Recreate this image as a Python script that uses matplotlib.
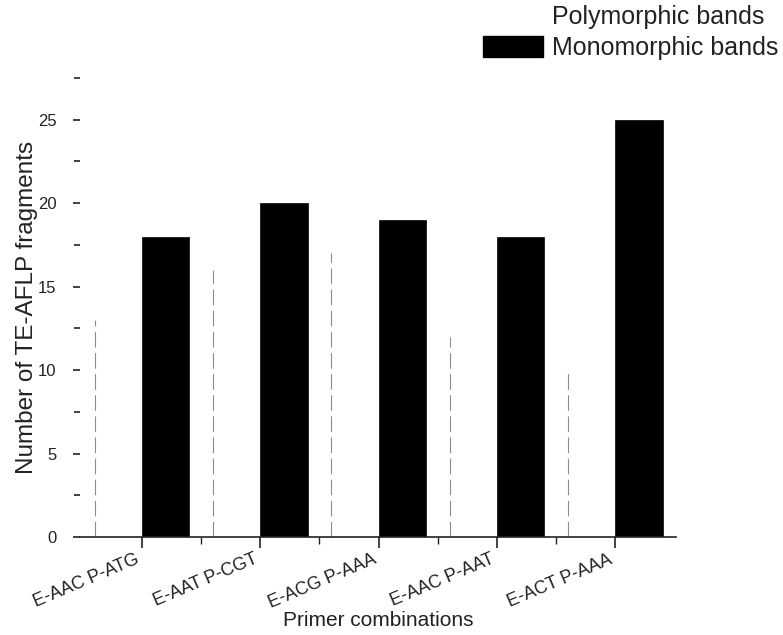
import matplotlib
matplotlib.use("Agg")
import matplotlib.pyplot as plt
import numpy as np
from matplotlib.patches import Patch

plt.rcParams['font.family'] = ['Liberation Sans Narrow', 'Liberation Sans', 'DejaVu Sans']

categories = ["E-AAC P-ATG", "E-AAT P-CGT", "E-ACG P-AAA", "E-AAC P-AAT", "E-ACT P-AAA"]
polymorphic = [13, 16, 17, 12, 10]
monomorphic = [18, 20, 19, 18, 25]
yticks = [0, 5, 10, 15, 20, 25]

fig = plt.figure(figsize=(7.83, 6.35), dpi=100)
ax = fig.add_axes([80/783, 98/635, 596/783, 459/635])

x = np.arange(len(categories))
w = 0.4
ax.bar(x - w, polymorphic, width=w, align='edge', color='white', edgecolor='none',
       label='Polymorphic bands')
ax.bar(x, monomorphic, width=w, align='edge', color='black', edgecolor='black',
       linewidth=0.5, label='Monomorphic bands')
# faint left edges of the white bars, as seen in the scan
ax.vlines(x - w, 0, polymorphic, colors='0.55', linewidth=0.8,
          linestyles=(0, (14, 5)))

ax.set_xlim(-0.524, 4.514)
ax.set_ylim(0, 27.5)
ax.set_yticks(yticks)
ax.set_yticks(np.arange(2.5, 28, 5), minor=True)
ax.set_xticks(x)
ax.set_xticks(x[:-1] + 0.5, minor=True)
ax.set_xticklabels(categories, rotation=23, ha='right', fontsize=13, color='#222222')
ax.tick_params(axis='y', labelsize=12, direction='out', length=5, width=1.2,
               colors='#222222', pad=12)
ax.tick_params(axis='y', which='minor', length=4, width=1.2, colors='#222222')
ax.tick_params(axis='x', which='major', direction='out', length=8, width=1.2,
               colors='#222222', pad=2)
ax.tick_params(axis='x', which='minor', direction='out', length=5, width=1.0,
               colors='#222222')

for s in ['top', 'right', 'left']:
    ax.spines[s].set_visible(False)
ax.spines['bottom'].set_linewidth(1.2)
ax.spines['bottom'].set_color('#222222')

ax.set_ylabel('Number of TE-AFLP fragments', fontsize=17.5, family=['Liberation Sans', 'DejaVu Sans'],
              color='#222222')
ax.yaxis.set_label_coords(-0.07, 0.5)
ax.set_xlabel('Primer combinations', fontsize=15, family=['Liberation Sans', 'DejaVu Sans'],
              color='#222222')
ax.xaxis.set_label_coords(0.5, -0.162)

handles = [Patch(facecolor='white', edgecolor='none'),
           Patch(facecolor='black', edgecolor='black')]
fig.legend(handles, ['Polymorphic bands', 'Monomorphic bands'],
           loc='upper right', bbox_to_anchor=(1.0, 1.0), frameon=False,
           prop={'family': ['Liberation Sans', 'DejaVu Sans'], 'size': 18},
           handlelength=2.4, handleheight=0.95, handletextpad=0.35,
           labelspacing=0.25, borderaxespad=0.0, borderpad=0.2, labelcolor='#222222')

fig.savefig('out.png', dpi=100)
